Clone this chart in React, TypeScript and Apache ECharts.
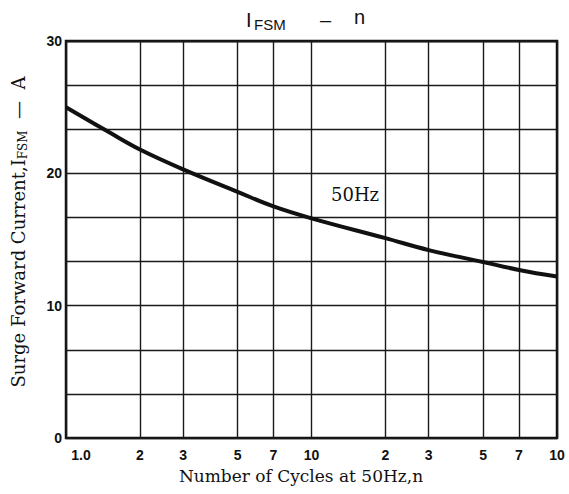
import React, { useEffect, useRef } from "react";
import * as echarts from "echarts";

const cycles = [1, 1.5, 2, 3, 5, 7, 10, 20, 30, 50, 70, 100];
const surgeCurrent = [25, 23.1, 21.8, 20.3, 18.6, 17.5, 16.6, 15.1, 14.2, 13.3, 12.7, 12.2];
const xTickValues = [1, 2, 3, 5, 7, 10, 20, 30, 50, 70, 100];
const yLabelValues = [0, 10, 20, 30];

const SANS = "'Liberation Sans', Arial, sans-serif";
const SERIF = "'DejaVu Serif', serif";

export default function App() {
  const ref = useRef<HTMLDivElement>(null);
  useEffect(() => {
    if (!ref.current) return;
    const chart = echarts.init(ref.current, null, { renderer: "svg" });
    const xLabel = (v: number) => {
      if (v === 1) return "{f|1.0}";
      if (v === 10 || v === 100) return "10";
      return String(v < 10 ? v : v / 10);
    };
    chart.setOption({
      animation: false,
      backgroundColor: "#ffffff",
      grid: {
        left: 66,
        right: 12,
        top: 41,
        bottom: 56,
        show: true,
        borderColor: "#111",
        borderWidth: 2.5,
        containLabel: false,
      },
      xAxis: {
        type: "log",
        logBase: 10,
        min: 1,
        max: 100,
        axisLine: { show: false },
        axisTick: { show: false, customValues: xTickValues },
        splitLine: { show: true, lineStyle: { color: "#1a1a1a", width: 1.4 } },
        minorTick: { show: false },
        axisLabel: {
          customValues: xTickValues,
          formatter: xLabel,
          margin: 10,
          color: "#111",
          fontFamily: SANS,
          fontWeight: "bold",
          fontSize: 14,
          rich: {
            f: {
              padding: [0, 0, 0, 30],
              color: "#111",
              fontFamily: SANS,
              fontWeight: "bold",
              fontSize: 14,
            },
          },
        },
      },
      yAxis: {
        type: "value",
        min: 0,
        max: 30,
        interval: 10 / 3,
        axisLine: { show: false },
        axisTick: { show: false },
        splitLine: { show: true, lineStyle: { color: "#1a1a1a", width: 1.4 } },
        axisLabel: {
          margin: 4,
          color: "#111",
          fontFamily: SANS,
          fontWeight: "bold",
          fontSize: 14,
          formatter: (v: number) => {
            const r = Math.round(v);
            return yLabelValues.some((t) => Math.abs(t - v) < 0.01) ? String(r) : "";
          },
        },
      },
      series: [
        {
          type: "line",
          data: cycles.map((n, i) => [n, surgeCurrent[i]]),
          smooth: 0.4,
          symbol: "none",
          lineStyle: { color: "#111", width: 4 },
        },
      ],
      graphic: [
        { type: "text", left: 246, top: 10, style: { text: "I", font: `20px ${SANS}`, fill: "#111" } },
        { type: "text", left: 254, top: 17, style: { text: "FSM", font: `15px ${SANS}`, fill: "#111" } },
        { type: "text", left: 320, top: 10, style: { text: "–", font: `20px ${SANS}`, fill: "#111" } },
        { type: "text", left: 354, top: 7, style: { text: "n", font: `20px ${SANS}`, fill: "#111" } },
        {
          type: "text",
          left: 331,
          top: 185,
          style: { text: "50Hz", font: `18px ${SERIF}`, fill: "#111" },
        },
        {
          type: "text",
          x: 301,
          y: 476,
          style: {
            text: "Number of Cycles at 50Hz,n",
            font: `17px ${SERIF}`,
            fill: "#111",
            align: "center",
            verticalAlign: "middle",
          },
        },
        {
          type: "text",
          x: 18,
          y: 232,
          rotation: Math.PI / 2,
          style: {
            text: "{a|Surge Forward Current,I}{s|FSM}{a|  —  A}",
            align: "center",
            verticalAlign: "middle",
            rich: {
              a: { font: `18px ${SERIF}`, fill: "#111", lineHeight: 22 },
              s: { font: `12px ${SERIF}`, fill: "#111", lineHeight: 15, verticalAlign: "bottom" },
            },
          },
        },
      ],
    });
    return () => chart.dispose();
  }, []);
  return <div ref={ref} style={{ width: 569, height: 494, position: "absolute", left: 0, top: 0 }} />;
}
